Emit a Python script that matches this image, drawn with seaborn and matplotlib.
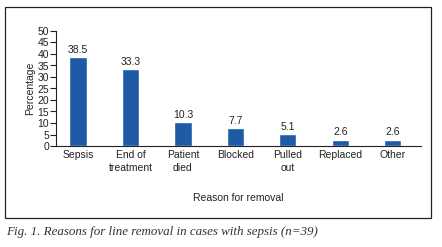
import matplotlib
matplotlib.use("Agg")
import matplotlib.pyplot as plt
import seaborn as sns
import pandas as pd
from matplotlib.patches import Rectangle

reasons = ["Sepsis", "End of\ntreatment", "Patient\ndied", "Blocked",
           "Pulled\nout", "Replaced", "Other"]
percentages = [38.5, 33.3, 10.3, 7.7, 5.1, 2.6, 2.6]
yticks = list(range(0, 55, 5))

df = pd.DataFrame({"reason": reasons, "pct": percentages})

sns.set_theme(style="white")
plt.rcParams["font.family"] = ["Liberation Sans", "DejaVu Sans"]

W, H = 442, 247
fig = plt.figure(figsize=(W / 100, H / 100), dpi=100)
ax = fig.add_axes([56 / W, 1 - 146 / H, (421 - 56) / W, (146 - 31) / H])

sns.barplot(data=df, x="reason", y="pct", color="#1f5aa6", width=0.33,
            saturation=1, ax=ax)

for i, v in enumerate(percentages):
    ax.text(i, v + 1.2, f"{v}", ha="center", va="bottom", fontsize=7.5, color="#222222")

ax.set_ylim(0, 50)
ax.set_xlim(-0.42, 6.54)
ax.set_yticks(yticks)
ax.tick_params(axis="y", left=True, length=4, width=0.8, pad=1, labelsize=7.5, colors="#222222")
ax.tick_params(axis="x", bottom=False, length=0, pad=3, labelsize=7.5, colors="#222222")
for lab in ax.get_xticklabels():
    lab.set_linespacing(1.4)
ax.set_ylabel("Percentage", fontsize=7.5, color="#222222", labelpad=2)
ax.set_xlabel("Reason for removal", fontsize=7.5, color="#222222", labelpad=14)
sns.despine(ax=ax)
ax.spines["left"].set_color("#222222")
ax.spines["bottom"].set_color("#222222")
ax.spines["left"].set_linewidth(0.8)
ax.spines["bottom"].set_linewidth(0.8)

# frame around chart
fig.patches.append(Rectangle((5 / W, 1 - 218 / H), (431 - 5) / W, (218 - 7) / H,
                             transform=fig.transFigure, fill=False,
                             edgecolor="#222222", linewidth=0.9))

fig.text(6 / W, 1 - 232 / H, "Fig. 1. Reasons for line removal in cases with sepsis (n=39)",
         fontsize=9.4, style="italic", family=["Liberation Serif", "DejaVu Serif"],
         color="#333333", va="center", ha="left")

fig.savefig("out.png", dpi=100)
plt.close()
